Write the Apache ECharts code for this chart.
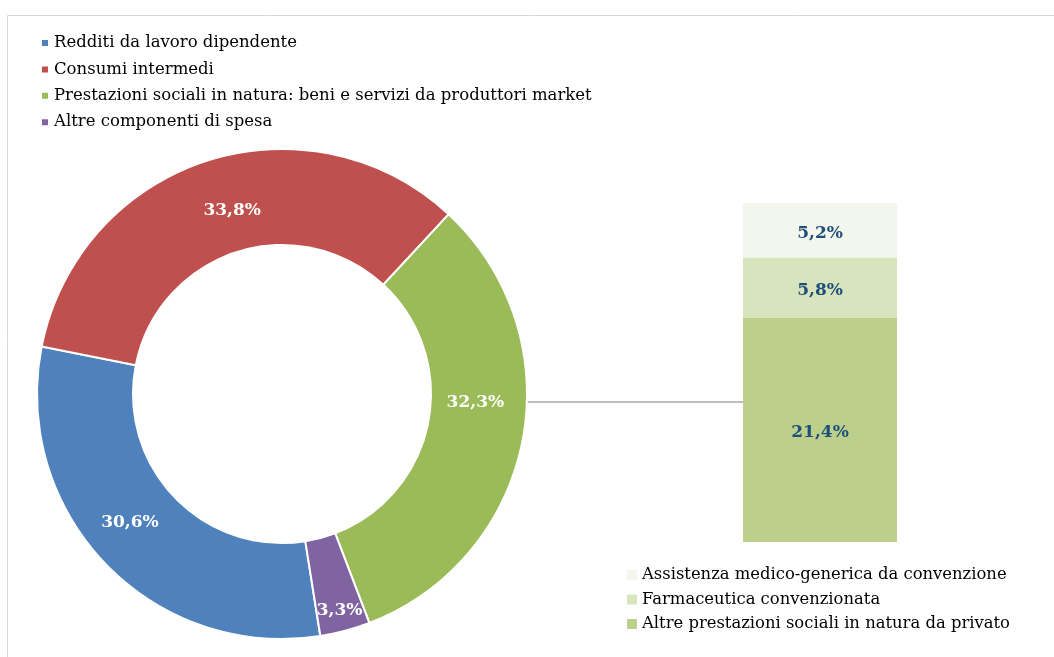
<!DOCTYPE html>
<html>
<head>
<meta charset="utf-8">
<script src="https://cdn.jsdelivr.net/npm/echarts@6/dist/echarts.min.js"></script>
<style>
  html, body { margin: 0; padding: 0; background: #fff; }
  #chart { width: 1054px; height: 657px; }
</style>
</head>
<body>
<div id="chart"></div>
<script>
// composizione della spesa (valori %)
const pieNames = [
  'Redditi da lavoro dipendente',
  'Consumi intermedi',
  'Prestazioni sociali in natura: beni e servizi da produttori market',
  'Altre componenti di spesa'
]
const pieValues = [30.6, 33.8, 32.3, 3.3]
const pieColors = ['#4f81bd', '#c0504d', '#9bbb59', '#8064a2']

// dettaglio prestazioni sociali in natura (dal basso verso l'alto)
const barNames = [
  'Altre prestazioni sociali in natura da privato',
  'Farmaceutica convenzionata',
  'Assistenza medico-generica da convenzione'
]
const barValues = [21.4, 5.8, 5.2]
const barColors = ['#bcd08c', '#d7e4bd', '#f3f6ec']

const FONT = 'DejaVu Serif'
const fmt = v => v.toFixed(1).replace('.', ',') + '%'

const pieCenter = [282, 394]
const pieRadius = [149, 245]
const gridLeft = 743
const lineY = 402

// spostamenti delle etichette per avvicinarle all'originale
const pieLabelShift = [[-8, -10], [12, 7], [-3, -30], [6, 23]]

const chart = echarts.init(document.getElementById('chart'))

const barTotal = barValues.reduce((a, b) => a + b, 0)

const option = {
  animation: false,
  textStyle: { fontFamily: FONT },
  legend: [
    {
      data: pieNames,
      orient: 'vertical',
      left: 35,
      top: 28,
      itemWidth: 8,
      itemHeight: 8,
      itemGap: 6.4,
      icon: 'rect',
      textStyle: { fontFamily: FONT, fontSize: 16.5, color: '#000', lineHeight: 20 }
    },
    {
      data: barNames.slice().reverse(),
      orient: 'vertical',
      left: 622,
      top: 560,
      itemWidth: 10,
      itemHeight: 10,
      itemGap: 4.5,
      icon: 'rect',
      textStyle: { fontFamily: FONT, fontSize: 16.4, color: '#000', lineHeight: 20 }
    }
  ],
  grid: {
    left: gridLeft,
    width: 154,
    top: 203,
    bottom: 115
  },
  xAxis: {
    type: 'category',
    data: [''],
    show: false
  },
  yAxis: {
    type: 'value',
    min: 0,
    max: barTotal,
    show: false
  },
  graphic: [
    {
      type: 'rect',
      shape: { x: 7.5, y: 15.5, width: 1200, height: 800 },
      style: { fill: 'none', stroke: '#d9d9d9', lineWidth: 1 },
      silent: true
    },
    {
      type: 'line',
      shape: { x1: pieCenter[0] + pieRadius[1], y1: lineY, x2: gridLeft, y2: lineY },
      style: { stroke: '#7f7f7f', lineWidth: 1.2 },
      silent: true
    }
  ],
  series: [
    {
      type: 'pie',
      center: pieCenter,
      radius: pieRadius,
      startAngle: -81,
      clockwise: true,
      data: pieNames.map((n, i) => ({ name: n, value: pieValues[i], itemStyle: { color: pieColors[i] } })),
      itemStyle: { borderColor: '#fff', borderWidth: 2 },
      label: {
        position: 'inside',
        formatter: p => fmt(p.value),
        color: '#fff',
        fontFamily: FONT,
        fontWeight: 'bold',
        fontSize: 17
      },
      labelLine: { show: false },
      labelLayout: p => ({ dx: pieLabelShift[p.dataIndex][0], dy: pieLabelShift[p.dataIndex][1] })
    }
  ].concat(barNames.map((n, i) => ({
    type: 'bar',
    name: n,
    stack: 'dettaglio',
    barWidth: '100%',
    data: [barValues[i]],
    itemStyle: { color: barColors[i] },
    label: {
      show: true,
      position: 'inside',
      offset: [0, 3],
      formatter: p => fmt(p.value),
      color: '#1f4e79',
      fontFamily: FONT,
      fontWeight: 'bold',
      fontSize: 17
    }
  })))
}

chart.setOption(option)
</script>
</body>
</html>
